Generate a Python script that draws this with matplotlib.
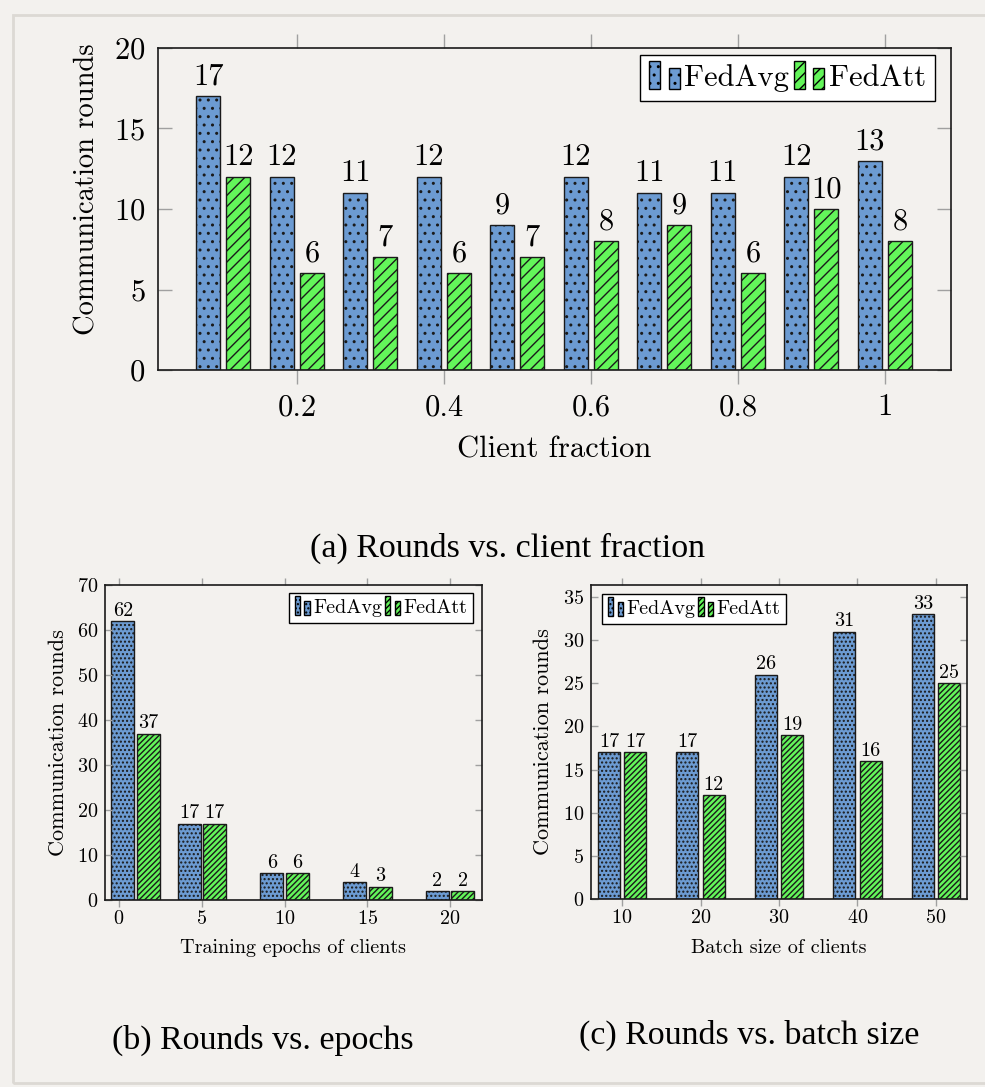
import matplotlib
matplotlib.use("Agg")
import matplotlib.pyplot as plt
from matplotlib.patches import Rectangle
from matplotlib.legend_handler import HandlerBase

# client fraction experiment
fractions = [0.1, 0.2, 0.3, 0.4, 0.5, 0.6, 0.7, 0.8, 0.9, 1.0]
fedavg_frac = [17, 12, 11, 12, 9, 12, 11, 11, 12, 13]
fedatt_frac = [12, 6, 7, 6, 7, 8, 9, 6, 10, 8]
frac_ticks = [0.2, 0.4, 0.6, 0.8, 1.0]
frac_ticklabels = ["0.2", "0.4", "0.6", "0.8", "1"]

# local epochs experiment
epochs = [1, 5, 10, 15, 20]
fedavg_ep = [62, 17, 6, 4, 2]
fedatt_ep = [37, 17, 6, 3, 2]
ep_ticks = [0, 5, 10, 15, 20]

# batch size experiment
batch = [10, 20, 30, 40, 50]
fedavg_bs = [17, 17, 26, 31, 33]
fedatt_bs = [17, 12, 19, 16, 25]
bs_ticks = [10, 20, 30, 40, 50]

BG = "#f3f1ee"
BLUE = "#6c9bd2"
GREEN = "#63f55a"
TICK = "#a0a0a0"

plt.rcParams["font.family"] = "serif"
plt.rcParams["font.serif"] = ["cmr10", "DejaVu Serif"]
plt.rcParams["mathtext.fontset"] = "cm"
plt.rcParams["axes.formatter.use_mathtext"] = True
plt.rcParams["hatch.linewidth"] = 1.0


class TwinBars(HandlerBase):
    # pgfplots style ybar legend image: two small bars side by side
    def create_artists(self, legend, orig_handle, xdescent, ydescent,
                       width, height, fontsize, trans):
        bw = width * 0.36
        arts = []
        for x0, h in ((0, 1.35), (width - bw, 1.0)):
            r = Rectangle((x0 - xdescent, -ydescent - 0.15 * height), bw, h * height,
                          facecolor=orig_handle.get_facecolor(), edgecolor="black",
                          hatch=orig_handle.get_hatch(), lw=1.0, transform=trans)
            arts.append(r)
        return arts


def style_axes(ax, fs, tlen, xpad, ypad):
    ax.set_facecolor(BG)
    for s in ax.spines.values():
        s.set_linewidth(1.2)
        s.set_color("#1a1a1a")
    ax.tick_params(axis="x", which="both", direction="out", top=True, bottom=True,
                   length=tlen, width=1, color=TICK, labelsize=fs, pad=xpad)
    ax.tick_params(axis="y", which="both", direction="in", left=True, right=True,
                   length=tlen, width=1, color=TICK, labelsize=fs, pad=ypad)


def grouped(ax, x, a, b, off, w, hatch_a, hatch_b, fs, lpad):
    ba = ax.bar([v - off for v in x], a, w, color=BLUE, edgecolor="#1a1a1a",
                lw=1.0, hatch=hatch_a, label="FedAvg")
    bb = ax.bar([v + off for v in x], b, w, color=GREEN, edgecolor="#1a1a1a",
                lw=1.0, hatch=hatch_b, label="FedAtt")
    ax.bar_label(ba, padding=lpad, fontsize=fs)
    ax.bar_label(bb, padding=lpad, fontsize=fs)
    return ba, bb


def add_legend(ax, ba, bb, fs, loc, anchor, hl, pad):
    leg = ax.legend([ba.patches[0], bb.patches[0]], ["FedAvg", "FedAtt"],
                    handler_map={Rectangle: TwinBars()}, ncol=2, loc=loc,
                    bbox_to_anchor=anchor, borderaxespad=0, fontsize=fs,
                    handlelength=hl, handleheight=0.7, handletextpad=0.15,
                    columnspacing=0.15, borderpad=pad, fancybox=False, framealpha=1)
    leg.get_frame().set_edgecolor("black")
    leg.get_frame().set_linewidth(1.0)


fig = plt.figure(figsize=(9.85, 10.87), dpi=100, facecolor=BG)
fig.patches.append(Rectangle((13 / 985, 4 / 1087), 1.0, 1 - 19 / 1087, fill=False,
                             edgecolor="#dcd9d4", lw=2, transform=fig.transFigure))

# (a) client fraction
ax1 = fig.add_axes([158 / 985, 1 - 370 / 1087, 793 / 985, 322 / 1087])
fs1 = 22
style_axes(ax1, fs1, 10, 7, 9)
ba, bb = grouped(ax1, fractions, fedavg_frac, fedatt_frac, 0.0205, 0.0327,
                 "..", "///", fs1, 4)
ax1.set_xlim(0.011, 1.09)
ax1.set_ylim(0, 20)
ax1.set_xticks(frac_ticks, frac_ticklabels)
ax1.set_yticks([0, 5, 10, 15, 20])
ax1.set_ylabel("Communication rounds", fontsize=20.5)
ax1.yaxis.set_label_coords(-0.073, 0.56)
ax1.set_xlabel("Client fraction", fontsize=fs1)
ax1.xaxis.set_label_coords(0.5, -0.205)
add_legend(ax1, ba, bb, fs1, "upper right", (0.98, 0.978), 1.0, 0.3)

# (b) local epochs
fs2 = 14.5
ax2 = fig.add_axes([105 / 985, 1 - 900 / 1087, 377 / 985, 315 / 1087])
style_axes(ax2, fs2, 5, 2, 5)
ba, bb = grouped(ax2, epochs, fedavg_ep, fedatt_ep, 0.77, 1.39,
                 "....", "//////", fs2, 1)
ax2.set_xlim(-0.85, 21.93)
ax2.set_ylim(0, 70)
ax2.set_xticks(ep_ticks)
ax2.set_yticks(range(0, 71, 10))
ax2.set_ylabel("Communication rounds", fontsize=16)
ax2.yaxis.set_label_coords(-0.098, 0.5)
ax2.set_xlabel("Training epochs of clients", fontsize=fs2)
ax2.xaxis.set_label_coords(0.5, -0.125)
add_legend(ax2, ba, bb, fs2, "upper right", (0.976, 0.975), 0.75, 0.3)

# (c) batch size
ax3 = fig.add_axes([591 / 985, 1 - 899 / 1087, 376 / 985, 314 / 1087])
style_axes(ax3, fs2, 5, 2, 5)
ba, bb = grouped(ax3, batch, fedavg_bs, fedatt_bs, 1.66, 2.8,
                 "....", "//////", fs2, 1)
ax3.set_xlim(6.05, 53.95)
ax3.set_ylim(0, 36.4)
ax3.set_xticks(bs_ticks)
ax3.set_yticks(range(0, 36, 5))
ax3.set_ylabel("Communication rounds", fontsize=16)
ax3.yaxis.set_label_coords(-0.101, 0.5)
ax3.set_xlabel("Batch size of clients", fontsize=fs2)
ax3.xaxis.set_label_coords(0.5, -0.128)
add_legend(ax3, ba, bb, fs2, "upper left", (0.029, 0.971), 0.75, 0.3)

# subfigure captions
cap = dict(family="Liberation Serif", fontsize=24.5, ha="center", va="center")
fig.text(507 / 985, 1 - 548 / 1087, "(a) Rounds vs. client fraction", **cap)
fig.text(263 / 985, 1 - 1040 / 1087, "(b) Rounds vs. epochs", **cap)
fig.text(749 / 985, 1 - 1035 / 1087, "(c) Rounds vs. batch size", **cap)

fig.savefig("out.png", dpi=100, facecolor=BG)
